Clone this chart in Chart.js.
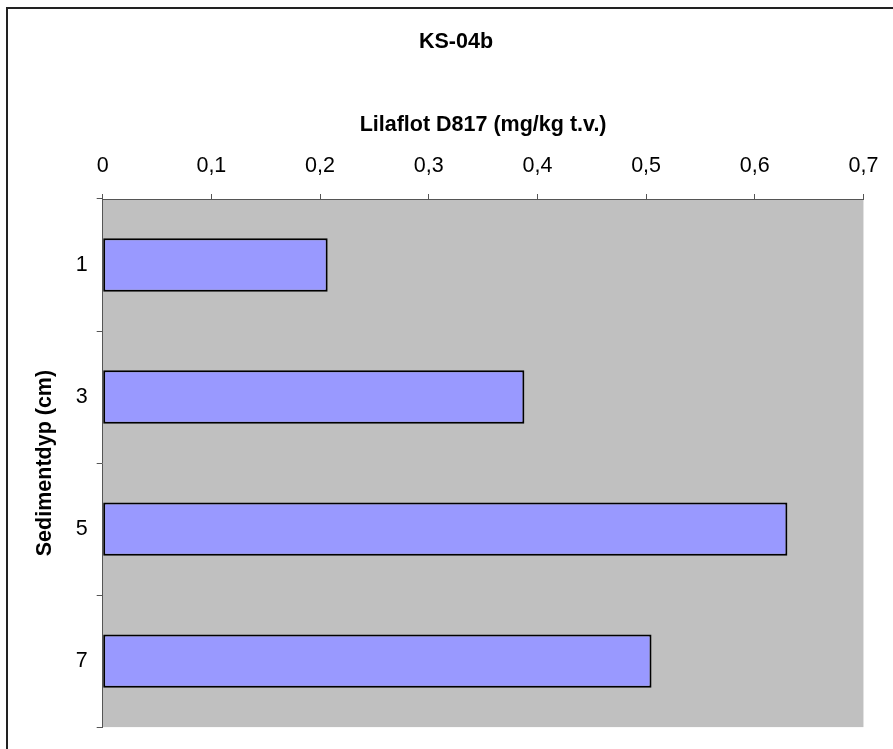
<!DOCTYPE html>
<html>
<head>
<meta charset="utf-8">
<script src="https://cdn.jsdelivr.net/npm/chart.js@4/dist/chart.umd.min.js"></script>
<style>
  html, body { margin:0; padding:0; background:#fff; overflow:hidden; }
  #chart { display:block; }
</style>
</head>
<body>
<canvas id="chart" width="893" height="749"></canvas>
<script>
// data
const depths = ['1', '3', '5', '7'];
const lilaflot = [0.207, 0.388, 0.630, 0.505];
const xTicks = [0, 0.1, 0.2, 0.3, 0.4, 0.5, 0.6, 0.7];

const FONT = 'Liberation Sans, Arial, sans-serif';

// grey plot area + outer frame (only top/left edges are inside the picture)
const plotBg = {
  id: 'plotBg',
  beforeDraw(chart){
    const {ctx, chartArea:a, width, height} = chart;
    ctx.save();
    ctx.fillStyle = '#C0C0C0';
    ctx.fillRect(a.left, a.top, a.right - a.left, a.bottom - a.top);
    ctx.strokeStyle = '#222';
    ctx.lineWidth = 2;
    ctx.beginPath();
    ctx.moveTo(7, height + 5);
    ctx.lineTo(7, 8);
    ctx.lineTo(width + 5, 8);
    ctx.stroke();
    ctx.restore();
  }
};

const fmt = v => v === 0 ? '0' : v.toFixed(1).replace('.', ',');

new Chart(document.getElementById('chart').getContext('2d'), {
  type: 'bar',
  data: {
    labels: depths,
    datasets: [{
      data: lilaflot,
      backgroundColor: '#9999FF',
      borderColor: '#000',
      borderWidth: 2,
      borderSkipped: false,
      barPercentage: 0.404,
      categoryPercentage: 1
    }]
  },
  options: {
    indexAxis: 'y',
    responsive: false,
    animation: false,
    layout: { padding: { left: 43, right: 24, top: 0, bottom: 14 } },
    plugins: {
      legend: { display: false },
      tooltip: { enabled: false },
      title: {
        display: true,
        text: 'KS-04b',
        color: '#000',
        font: { family: FONT, size: 21.5, weight: 'bold' },
        padding: { top: 29.1, bottom: 10 }
      }
    },
    scales: {
      x: {
        position: 'top',
        min: 0, max: 0.7,
        afterBuildTicks: s => { s.ticks = xTicks.map(v => ({value: v})); },
        afterFit: s => { s.height = 134.1; },
        ticks: {
          color: '#000',
          font: { family: FONT, size: 21.5 },
          padding: 14.6,
          maxRotation: 0,
          callback: v => fmt(v)
        },
        grid: { drawOnChartArea: false, tickLength: 5, color: '#555' },
        border: { color: '#555', width: 1 },
        title: {
          display: true,
          text: 'Lilaflot D817 (mg/kg t.v.)',
          color: '#000',
          font: { family: FONT, size: 21.5, weight: 'bold' },
          padding: { top: 47.2, bottom: 0 }
        }
      },
      y: {
        afterFit: s => { s.width = 59.7; },
        ticks: {
          color: '#000',
          font: { family: FONT, size: 21.5 },
          padding: 9
        },
        grid: { drawOnChartArea: false, offset: true, tickLength: 6, color: '#555' },
        border: { color: '#555', width: 1 },
        title: {
          display: true,
          text: 'Sedimentdyp (cm)',
          color: '#000',
          font: { family: FONT, size: 21.5, weight: 'bold' },
          padding: { top: -10.9, bottom: 0 }
        }
      }
    }
  },
  plugins: [plotBg]
});
</script>
</body>
</html>
